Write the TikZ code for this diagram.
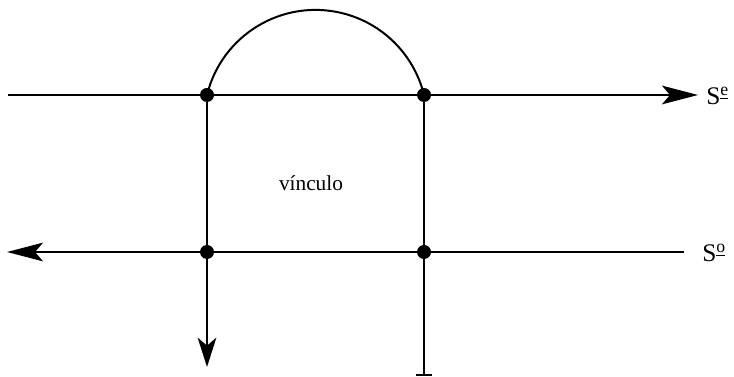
\documentclass[tikz,border=0pt]{standalone}
\usepackage{fontspec}
\setmainfont{Liberation Serif}
\usetikzlibrary{arrows.meta}
\tikzset{
    wire/.style={line width=1.5pt, black},
    flow/.style={wire, -{Stealth[length=27pt, width=14pt, inset=6pt]}},
    drop/.style={wire, -{Stealth[length=22pt, width=14pt, inset=6pt]}},
    joint/.style={circle, fill=black, inner sep=0pt, minimum size=10.5pt},
    tag/.style={font=\fontsize{16}{18}\selectfont, inner sep=0pt},
    side/.style={font=\fontsize{19}{21}\selectfont, inner sep=0pt, anchor=west}
}
\begin{document}
\begin{tikzpicture}[x=0.75pt, y=0.75pt]
  \useasboundingbox (0,0) rectangle (734,377);
  % Nodes
  \node[joint] (a) at (207,282) {};
  \node[joint] (b) at (424,282) {};
  \node[joint] (c) at (207,125) {};
  \node[joint] (d) at (424,125) {};
  \coordinate (inL) at (8,282);
  \coordinate (inR) at (698,282);
  \coordinate (outR) at (684,125);
  \coordinate (outL) at (7,125);
  \coordinate (down) at (207,10);
  \coordinate (stop) at (424,2);
  \node[side] (se) at (706,281) {S\textsuperscript{\underline{e}}};
  \node[side] (so) at (702,124) {S\textsuperscript{\underline{o}}};
  \node[tag] (vin) at (311,194) {vínculo};

  % Edges
  \draw[wire] (a.center) arc[start angle=166.2, end angle=13.8, radius=83.8pt];
  \draw[flow] (inL) -- (inR);
  \draw[flow] (outR) -- (outL);
  \draw[drop] (a.center) -- (down);
  \draw[wire] (b.center) -- (stop);
  \draw[wire] ([xshift=-6pt]stop) -- ([xshift=6pt]stop);
\end{tikzpicture}
\end{document}
